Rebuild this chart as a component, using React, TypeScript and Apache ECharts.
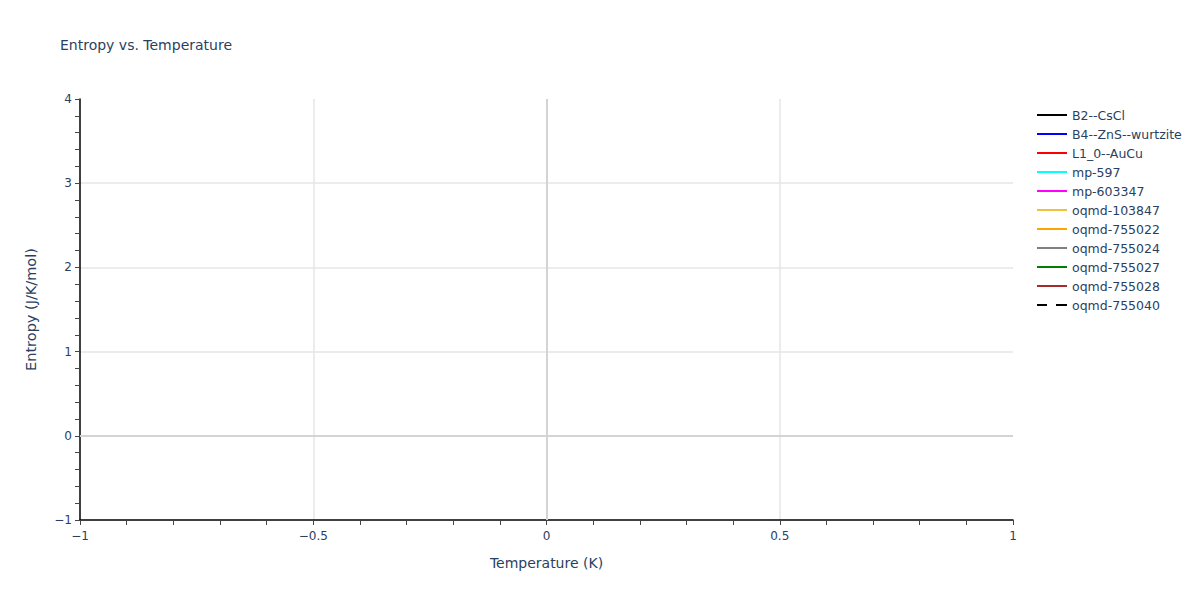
import React, { useEffect, useRef } from 'react';
import * as echarts from 'echarts';

const seriesNames = [
  'B2--CsCl',
  'B4--ZnS--wurtzite',
  'L1_0--AuCu',
  'mp-597',
  'mp-603347',
  'oqmd-103847',
  'oqmd-755022',
  'oqmd-755024',
  'oqmd-755027',
  'oqmd-755028',
  'oqmd-755040'
];
const seriesColors = [
  '#000000',
  '#0000ff',
  '#ff0000',
  '#00ffff',
  '#ff00ff',
  '#f0c23b',
  '#ffa500',
  '#808080',
  '#008000',
  '#a52a2a',
  '#000000'
];
const dashedSeries = ['oqmd-755040'];
// no points in the reference: every trace is empty
const seriesData: number[][][] = seriesNames.map(() => []);

const xRange = [-1, 1];
const yRange = [-1, 4];

const TEXT = '#2a3f5f';
const FONT = '"DejaVu Sans", Verdana, sans-serif';

const SOLID_ICON = 'path://M0,0h30v2h-30z';
const DASH_ICON = 'path://M0,0h10v2h-10zM19,0h11v2h-11z';

const fmt = (v: number) => String(v).replace('-', '\u2212');

const App: React.FC = () => {
  const chartRef = useRef<HTMLDivElement>(null);

  useEffect(() => {
    document.body.style.margin = '0';
    if (!chartRef.current) return;
    const chart = echarts.init(chartRef.current, undefined, { renderer: 'svg' });

    const option = {
      animation: false,
      backgroundColor: '#fff',
      textStyle: { fontFamily: FONT },
      title: {
        text: 'Entropy vs. Temperature',
        left: 60,
        top: 38,
        padding: 0,
        textStyle: { fontFamily: FONT, fontSize: 14, fontWeight: 'normal', color: TEXT }
      },
      legend: {
        orient: 'vertical',
        left: 1037,
        top: 108,
        padding: 0,
        itemWidth: 30,
        itemHeight: 2,
        itemGap: 5,
        textStyle: { fontFamily: FONT, fontSize: 12.5, lineHeight: 14, color: TEXT },
        data: seriesNames.map((name) => ({
          name,
          icon: dashedSeries.includes(name) ? DASH_ICON : SOLID_ICON
        }))
      },
      grid: { left: 80, right: 187, top: 99, bottom: 80 },
      xAxis: {
        type: 'value',
        min: xRange[0],
        max: xRange[1],
        interval: 0.5,
        name: 'Temperature (K)',
        nameLocation: 'middle',
        nameGap: 36,
        nameTextStyle: { fontFamily: FONT, fontSize: 14, color: TEXT },
        axisLine: { show: true, onZero: false, lineStyle: { color: '#000', width: 1.5 } },
        axisTick: { show: true, length: 5, lineStyle: { color: '#444' } },
        minorTick: { show: true, splitNumber: 5, length: 5, lineStyle: { color: '#444' } },
        axisLabel: { formatter: fmt, fontSize: 12, color: TEXT, margin: 10 },
        splitLine: {
          show: true,
          showMinLine: false,
          showMaxLine: false,
          lineStyle: { color: '#e6e6e6', width: 1.5 }
        }
      },
      yAxis: {
        type: 'value',
        min: yRange[0],
        max: yRange[1],
        interval: 1,
        name: 'Entropy (J/K/mol)',
        nameLocation: 'middle',
        nameGap: 42,
        nameTextStyle: { fontFamily: FONT, fontSize: 14.5, color: TEXT },
        axisLine: { show: true, onZero: false, lineStyle: { color: '#000', width: 1.5 } },
        axisTick: { show: true, length: 5, lineStyle: { color: '#444' } },
        minorTick: { show: true, splitNumber: 5, length: 5, lineStyle: { color: '#444' } },
        axisLabel: { formatter: fmt, fontSize: 12, color: TEXT, margin: 8 },
        splitLine: {
          show: true,
          showMinLine: false,
          showMaxLine: false,
          lineStyle: { color: '#e6e6e6', width: 1.5 }
        }
      },
      series: seriesNames.map((name, i) => ({
        name,
        type: 'line',
        symbol: 'none',
        color: seriesColors[i],
        lineStyle: {
          color: seriesColors[i],
          width: 2,
          type: dashedSeries.includes(name) ? [9, 9] : 'solid'
        },
        data: seriesData[i],
        ...(i === 0
          ? {
              markLine: {
                silent: true,
                symbol: 'none',
                label: { show: false },
                lineStyle: { color: '#d4d4d4', width: 2, type: 'solid' },
                data: [{ xAxis: 0 }, { yAxis: 0 }]
              }
            }
          : {})
      }))
    };

    chart.setOption(option);
    return () => {
      chart.dispose();
    };
  }, []);

  return <div ref={chartRef} style={{ width: '1200px', height: '600px' }} />;
};

export default App;
